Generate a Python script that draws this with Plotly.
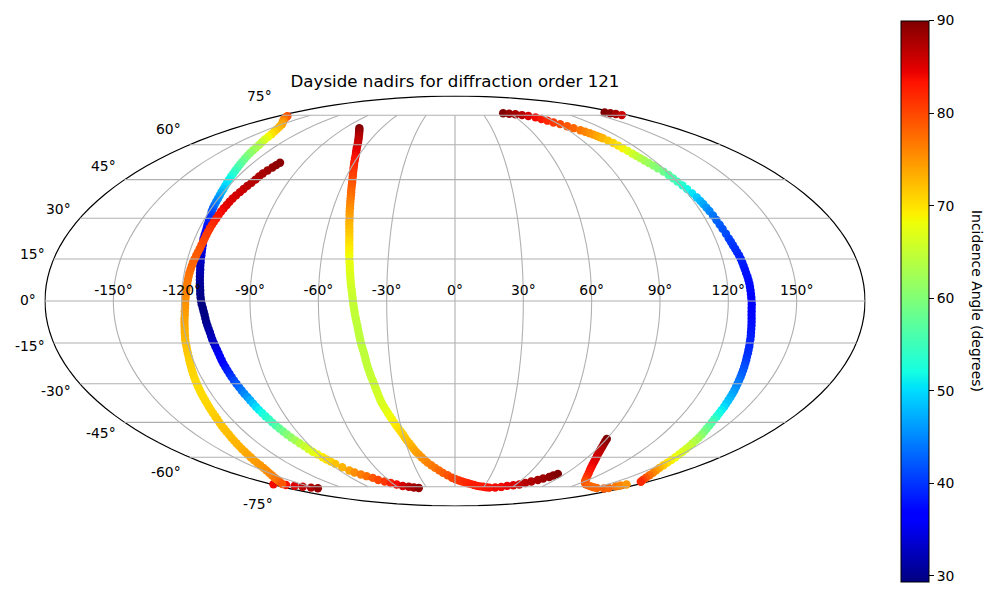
import numpy as np
import plotly.graph_objects as go

title = "Dayside nadirs for diffraction order 121"
colorbar_title = "Incidence Angle (degrees)"
cmin, cmax = 29.4, 90

# each row: latitude, longitude, incidence angle
track_a = [(74.5,-170.3,80),(74,-168,79),(73,-163.5,77.5),(72,-158.7,76),(71,-154,75),(70,-149.8,74),(68.75,-146.4,73),(67.5,-143.4,72),(66.25,-140.8,71),(65,-138.6,70),(63.75,-137,68.5),(62.5,-135.7,67),(61.25,-134.1,65.5),(60,-132.7,64),(58.75,-131.7,63),(57.5,-130.8,62),(56.25,-130,61),(55,-129.1,60),(53.75,-128.2,59),(52.5,-127.3,58),(51.25,-126.5,57),(50,-125.7,56),(48.75,-125,55),(47.5,-124.3,54),(46.25,-123.7,52.8),(45,-123.1,51.5),(43.75,-122.5,50.8),(42.5,-121.9,50),(41.25,-121.4,49),(40,-121,48),(38.75,-120.5,47),(37.5,-120.1,46),(36.25,-119.8,45),(35,-119.5,44),(33.75,-119.1,43),(32.5,-118.7,42),(31.25,-118.1,41),(30,-117.6,40),(28.75,-117.3,39.2),(27.5,-117,38.5),(26.25,-116.6,38),(25,-116.3,37.5),(23.75,-116.1,37),(22.5,-115.9,36.5),(21.25,-115.5,36),(20,-115.1,35.5),(18.75,-114.8,35),(17.5,-114.5,34.5),(16.25,-114.2,34),(15,-114,33.5),(13.75,-113.7,33),(12.5,-113.5,32.5),(11.25,-113.2,32.2),(10,-113,32),(8.75,-112.8,31.5),(7.5,-112.6,31),(6.25,-112.4,30.7),(5,-112.2,30.5),(3.75,-112,30.2),(2.5,-111.9,30),(1.25,-111.7,29.8),(0,-111.5,29.7),(-1.25,-111.2,29.6),(-2.5,-110.8,29.5),(-3.75,-110.5,29.5),(-5,-110.2,29.5),(-6.25,-110,29.7),(-7.5,-109.8,30),(-8.75,-109.5,30.5),(-10,-109.2,31),(-11.25,-108.9,31.5),(-12.5,-108.7,32),(-13.75,-108.5,32.5),(-15,-108.2,33),(-16.25,-107.9,33.7),(-17.5,-107.6,34.5),(-18.75,-107.4,35.2),(-20,-107.2,36),(-21.25,-107,36.5),(-22.5,-106.8,37),(-23.75,-106.5,37.7),(-25,-106.2,38.5),(-26.25,-105.9,39.2),(-27.5,-105.6,40),(-28.75,-105.3,41),(-30,-104.9,42),(-31.25,-104.5,43),(-32.5,-104.1,44),(-33.75,-103.7,45),(-35,-103.2,46),(-36.25,-102.8,47.2),(-37.5,-102.4,48.5),(-38.75,-102,49.8),(-40,-101.6,51),(-41.25,-101.1,52),(-42.5,-100.6,53),(-43.75,-100.1,54),(-45,-99.6,55),(-46.25,-99,56.2),(-47.5,-98.4,57.5),(-48.75,-97.8,58.8),(-50,-97.2,60),(-51.25,-96.4,61.2),(-52.5,-95.6,62.5),(-53.75,-94.7,63.8),(-55,-93.8,65),(-56.25,-93,66),(-57.5,-92.2,67),(-58.75,-91,68.2),(-60,-89.8,69.5),(-61,-88.8,70.2),(-62,-87.8,71),(-63.1,-86.6,72),(-64.7,-84.6,73),(-66.35,-82.6,74),(-67.35,-80.6,75.5),(-68.35,-77.6,76.5),(-69.2,-74.7,77.5),(-70.1,-71.4,79),(-71.2,-69.1,80),(-72.05,-65.1,81),(-72.9,-61.4,82.5),(-73.7,-57.4,84),(-74.55,-53.2,85.5),(-75,-47.9,87),(-75.4,-43.4,88),(-75.7,-38.7,89)]

track_b = [(-73.6,-178,84),(-74,-168.3,83.5),(-74.5,-163,85),(-75,-158,86.5),(-75.5,-152.6,87.5),(-75.9,-148,89),(52,-104,89.5),(51,-104.8,89.3),(50,-105.6,89),(48.75,-106.7,88.5),(47.5,-107.7,88),(46.25,-108.2,87.8),(45,-108.7,87.5),(43.75,-109.4,87.2),(42.5,-110.1,87),(41.25,-110.8,86.5),(40,-111.4,86),(38.75,-112.1,85.8),(37.5,-112.7,85.5),(36.25,-113.1,85.2),(35,-113.4,85),(33.75,-113.8,84.5),(32.5,-114.1,84),(31.25,-114.3,83.5),(30,-114.5,83),(28.75,-114.7,82.5),(27.5,-114.9,82),(26.25,-115.1,81.5),(25,-115.2,81),(23.75,-115.3,80.8),(22.5,-115.4,80.5),(21.25,-115.5,80.2),(20,-115.7,80),(18.75,-115.9,79.5),(17.5,-116.2,79),(16.25,-116.5,78.8),(15,-116.8,78.5),(13.75,-117.1,78.2),(12.5,-117.3,78),(11.25,-117.5,77.8),(10,-117.7,77.5),(8.75,-117.8,77.2),(7.5,-117.9,77),(6.25,-118,76.8),(5,-118.1,76.5),(3.75,-118.1,76.2),(2.5,-118.2,76),(1.25,-118.3,75.8),(0,-118.4,75.5),(-1.25,-118.5,75.2),(-2.5,-118.6,75),(-3.75,-118.8,74.8),(-5,-118.9,74.5),(-6.25,-119.2,74.2),(-7.5,-119.4,74),(-8.75,-119.6,73.8),(-10,-119.8,73.5),(-11.25,-120.1,73.2),(-12.5,-120.3,73),(-13.75,-120.6,72.8),(-15,-120.8,72.5),(-16.25,-120.9,72.2),(-17.5,-121.1,72),(-18.75,-121.3,71.8),(-20,-121.5,71.5),(-21.25,-121.8,71.3),(-22.5,-122.1,71.2),(-23.75,-122.4,71.1),(-25,-122.7,71),(-26.25,-123,70.9),(-27.5,-123.3,70.8),(-28.75,-123.6,70.6),(-30,-123.9,70.5),(-31.25,-124.2,70.5),(-32.5,-124.5,70.5),(-33.75,-124.8,70.5),(-35,-125.1,70.5),(-36.25,-125.4,70.6),(-37.5,-125.7,70.7),(-38.75,-126.1,70.9),(-40,-126.5,71),(-41.25,-126.9,71.2),(-42.5,-127.3,71.3),(-43.75,-127.8,71.5),(-45,-128.4,71.7),(-46.25,-129,71.9),(-47.5,-129.6,72),(-48.75,-130.2,72.2),(-50,-130.8,72.3),(-51.25,-131.6,72.5),(-52.5,-132.4,72.7),(-53.75,-133.3,72.9),(-55,-134.2,73),(-56.25,-135.2,73.3),(-57.5,-136.2,73.5),(-58.75,-137.4,73.8),(-60,-138.6,74),(-61.25,-140,74.3),(-62.5,-141.4,74.5),(-63.75,-143,74.8),(-65,-144.8,75),(-66.25,-147,75.4),(-67.5,-149.7,75.7),(-68.75,-152.8,76.1),(-70,-156.2,76.5),(-71,-159.2,77),(-72,-162.4,77.5),(-72.8,-165.5,78.2),(-73.5,-168.7,79)]

track_c = [(68,-78.1,90),(67,-76,89.3),(66,-74.2,88.7),(65,-72.5,88),(63.75,-70.6,87.5),(62.5,-68.9,87),(61.25,-67.4,86.5),(60,-66.1,86),(58.75,-65,85.5),(57.5,-63.9,85),(56.25,-62.8,84.5),(55,-61.8,84),(53.75,-61,83.5),(52.5,-60.2,83),(51.25,-59.4,82.5),(50,-58.6,82),(48.75,-57.9,81.5),(47.5,-57.2,81),(46.25,-56.5,80.5),(45,-55.9,80),(43.75,-55.3,79.5),(42.5,-54.8,79),(41.25,-54.3,78.5),(40,-53.8,78),(38.75,-53.3,77.5),(37.5,-52.9,77),(36.25,-52.5,76.5),(35,-52.1,76),(33.75,-51.7,75.5),(32.5,-51.4,75),(31.25,-51,74.5),(30,-50.6,74),(28.75,-50.3,73.5),(27.5,-50,73),(26.25,-49.6,72.5),(25,-49.3,72),(23.75,-49,71.5),(22.5,-48.7,71),(21.25,-48.5,70.5),(20,-48.2,70),(18.75,-48,69.5),(17.5,-47.8,69),(16.25,-47.6,68.5),(15,-47.4,68),(13.75,-47.1,67.7),(12.5,-46.9,67.5),(11.25,-46.7,67.2),(10,-46.5,67),(8.75,-46.3,66.7),(7.5,-46.1,66.5),(6.25,-45.9,66.2),(5,-45.7,66),(3.75,-45.4,65.7),(2.5,-45.2,65.5),(1.25,-45,65.3),(0,-44.8,65.2),(-1.25,-44.6,65.1),(-2.5,-44.4,65),(-3.75,-44.2,64.9),(-5,-44,64.8),(-6.25,-43.7,64.7),(-7.5,-43.5,64.6),(-8.75,-43.2,64.5),(-10,-43,64.5),(-11.25,-42.8,64.5),(-12.5,-42.6,64.5),(-13.75,-42.4,64.5),(-15,-42.2,64.5),(-16.25,-41.9,64.5),(-17.5,-41.6,64.5),(-18.75,-41.3,64.5),(-20,-41.1,64.6),(-21.25,-40.9,64.6),(-22.5,-40.7,64.7),(-23.75,-40.5,64.7),(-25,-40.2,64.8),(-26.25,-39.9,64.9),(-27.5,-39.6,65),(-28.75,-39.2,65.1),(-30,-38.9,65.3),(-31.25,-38.6,65.5),(-32.5,-38.3,65.7),(-33.75,-38,65.8),(-35,-37.7,66),(-36.25,-37.4,66.2),(-37.5,-37,66.5),(-38.75,-36.4,66.7),(-40,-35.8,67),(-41.25,-35.2,67.5),(-42.5,-34.5,68),(-43.75,-33.9,68.5),(-45,-33.2,69),(-46.25,-32.5,69.5),(-47.5,-31.7,70),(-48.75,-30.9,70.5),(-50,-30.1,71),(-51.25,-29.5,71.5),(-52.5,-28.8,72),(-53.75,-27.9,72.5),(-55,-27,73),(-56.25,-26.2,73.5),(-57.5,-25.3,74),(-58.75,-24,74.5),(-60,-22.7,75),(-61.25,-21.2,75.5),(-62.5,-19.6,76),(-63.75,-17.4,76.5),(-65,-15.1,77),(-66.25,-12.4,77.8),(-67.5,-9.7,78.5),(-68.75,-6.2,79.2),(-70,-2.6,80),(-70.8,0.6,80.5),(-71.5,3.7,81),(-72,6.5,81.5),(-72.5,9.4,82),(-73,12.5,82.2),(-73.5,15.7,82.5),(-74,19,82.8),(-74.5,22.4,83),(-74.8,25.8,83),(-75,29.3,83),(-75.3,32.8,83.2),(-75.5,36.4,83.5),(-75.4,42.4,84),(-75.1,48.2,84),(-74.5,53,84.5),(-74.1,58.3,85),(-73.7,63.3,86),(-72.9,67.1,87),(-72.05,70.7,87.5),(-71.2,74.5,88),(-70.4,77.3,88.5),(-69.6,80.6,89),(-68.85,82.2,89.5),(-68.1,84.2,90)]

track_d = [(76.2,52.7,90),(75.9,58.5,89),(75.6,64.3,88),(75.1,69.8,87),(74.55,74.7,85.5),(73.8,79.6,84),(72.9,82.5,83),(71.95,85.3,82),(71,88,81),(70.1,91.3,80),(69,94.2,79),(68,96.8,78),(66.95,99.5,77),(66.2,101.3,76.2),(65.45,102.8,75.5),(64.8,104,74.8),(64.1,105,74),(63.5,105.9,73.5),(63,106.7,73),(61.9,107.9,72),(60.8,109,71),(59.6,109.8,70),(58.4,110.5,69),(57.2,111.3,67.5),(56,112,66),(55,112.7,65),(54,113.4,64),(53,114.2,63),(51.9,115,62),(50.8,116,61),(49.7,116.9,60),(48.3,118,58.5),(46.9,118.9,57),(45.5,119.5,56),(44.2,120.1,55),(42.7,120.9,53.5),(41.2,121.6,52),(39.5,122.3,50.5),(37.9,123,49),(36.6,123.4,48),(35.4,123.7,47),(34,124,46),(32.7,124.3,45),(31,124.6,44),(29.3,124.9,43),(27.6,125.2,42.5),(26,125.5,42),(24.2,125.9,41.5),(22.5,126.2,41),(21.25,126.5,40.5),(20,126.8,40),(18.75,127.2,39.8),(17.5,127.5,39.5),(16.25,127.9,39.2),(15,128.2,39),(13.75,128.4,38.8),(12.5,128.6,38.5),(11.25,128.8,38.2),(10,129,38),(8.75,129.3,37.9),(7.5,129.5,37.8),(6.25,129.7,37.6),(5,129.8,37.5),(3.75,129.9,37.4),(2.5,130,37.3),(1.25,130.1,37.1),(0,130.2,37),(-1.25,130.3,37),(-2.5,130.3,37),(-3.75,130.4,37.1),(-5,130.5,37.2),(-6.25,130.7,37.3),(-7.5,130.9,37.5),(-8.75,131.1,37.7),(-10,131.3,38),(-11.25,131.5,38.2),(-12.5,131.8,38.5),(-13.75,132,38.7),(-15,132.2,39),(-16.25,132.5,39.2),(-17.5,132.7,39.5),(-18.75,133,39.7),(-20,133.2,40),(-21.25,133.5,40.5),(-22.5,133.8,41),(-23.75,134.1,41.5),(-25,134.4,42),(-26.25,134.7,42.5),(-27.5,135,43),(-28.75,135.3,43.7),(-30,135.6,44.5),(-31.25,135.9,45.2),(-32.5,136.3,46),(-33.75,136.6,46.7),(-35,136.9,47.5),(-36.25,137.2,48.2),(-37.5,137.5,49),(-38.75,137.9,50),(-40,138.2,51),(-41.25,138.6,52),(-42.5,139,53),(-43.75,139.4,54.5),(-45,139.9,56),(-46.25,140.5,57),(-47.5,141.2,58),(-48.75,142,59.2),(-50,142.8,60.5),(-51.25,143.5,61.8),(-52.5,144.2,63),(-53.75,144.9,64),(-55,145.8,65),(-56.25,146.6,65.7),(-57.5,147.5,66.5),(-58.75,148.5,67.2),(-60,149.5,68),(-61.25,150.5,69),(-62.5,151.6,70),(-63.75,153,71.5),(-65,154.6,73),(-66.25,156.9,74.5),(-67.5,159.5,76),(-68.75,162.2,77.5),(-70,165.3,79),(-71.2,169,80.5),(-72.2,173,82)]

track_e = [(76.6,166.8,90),(76.2,170,89.5),(75.7,172,88),(75.1,173.8,86)]

track_f = [(-51.9,90.1,90),(-53,90.6,89.5),(-54.1,91.2,89),(-55.2,91.9,88.2),(-56.3,92.6,87.5),(-57.2,93.3,87),(-58.2,94.1,86.5),(-59.5,95.4,86),(-60.8,96.9,85.5),(-62.1,98.5,85),(-63.4,100.2,84.5),(-64.8,102.4,84),(-66.1,104.8,83.5),(-67.6,108,82.8),(-69.1,111.5,82),(-70.5,115.3,81),(-71.8,119.5,80),(-72.8,123.7,79.5),(-73.6,128.2,79),(-74.2,133.8,78.5),(-74.8,139.7,78),(-75.3,145.6,78),(-75.7,151.6,78),(-76,161.4,78.5),(-75.7,164.4,78),(-74.8,165.5,77),(-74.3,166.8,76),(-73.7,168.8,75)]

a_lat, a_lon, a_val = map(list, zip(*track_a))
b_lat, b_lon, b_val = map(list, zip(*track_b))
c_lat, c_lon, c_val = map(list, zip(*track_c))
d_lat, d_lon, d_val = map(list, zip(*track_d))
e_lat, e_lon, e_val = map(list, zip(*track_e))
f_lat, f_lon, f_val = map(list, zip(*track_f))

lon_ticks = [-150,-120,-90,-60,-30,0,30,60,90,120,150]
lat_ticks = [-75,-60,-45,-30,-15,0,15,30,45,60,75]
cbar_ticks = [30,40,50,60,70,80,90]
lat_label_x = [275,183,118,73,47,38,47,73,118,183,274]
lat_label_y = [504,472,433,391,346,300,254,209,166,129,96]

# the page has an 8px body margin: the figure fills what is left of the window
W, H, M = 992, 592, 8
def fx(px): return (px - M) / W
def fy(py): return 1 - (py - M) / H

FONT = "DejaVu Sans"
TXT = dict(family=FONT, size=13.9, color="black")
JET = [[0,"rgb(0,0,128)"],[.11,"rgb(0,0,255)"],[.125,"rgb(0,0,255)"],[.34,"rgb(0,219,255)"],[.35,"rgb(0,230,247)"],
       [.375,"rgb(21,255,226)"],[.64,"rgb(239,255,8)"],[.65,"rgb(247,246,0)"],[.66,"rgb(255,236,0)"],
       [.89,"rgb(255,19,0)"],[.91,"rgb(232,0,0)"],[1,"rgb(128,0,0)"]]

fig = go.Figure()
for la, lo, v, name in [(a_lat,a_lon,a_val,"a"),(b_lat,b_lon,b_val,"b"),(c_lat,c_lon,c_val,"c"),
                        (d_lat,d_lon,d_val,"d"),(e_lat,e_lon,e_val,"e"),(f_lat,f_lon,f_val,"f")]:
    fig.add_trace(go.Scattergeo(lat=la, lon=lo, mode="markers", name=name, hoverinfo="skip",
                                marker=dict(size=8.4, color=v, coloraxis="coloraxis", line=dict(width=0))))
GRID = dict(color="#b0b0b0", width=1.1)
for lo in lon_ticks:
    fig.add_trace(go.Scattergeo(lat=list(np.arange(-75,76,5)), lon=[lo]*31, mode="lines", line=GRID, hoverinfo="skip"))
for la in lat_ticks:
    ls = list(np.arange(-180,181,5))
    fig.add_trace(go.Scattergeo(lat=[la]*len(ls), lon=ls, mode="lines", line=GRID, hoverinfo="skip"))
fig.add_trace(go.Scattergeo(lat=[1]*len(lon_ticks), lon=lon_ticks, mode="text", hoverinfo="skip",
                            text=[f"{t}°" for t in lon_ticks], textposition="top center", textfont=TXT))
for t, x, y in zip(lat_ticks, lat_label_x, lat_label_y):
    fig.add_annotation(text=f"{t}°", xref="paper", yref="paper", x=fx(x), y=fy(y), xanchor="right", yanchor="middle",
                       showarrow=False, font=TXT)
fig.add_annotation(text=colorbar_title, xref="paper", yref="paper", x=fx(977), y=fy(301), xanchor="center", yanchor="middle",
                   textangle=90, showarrow=False, font=TXT)
fig.update_layout(
    width=W, height=H, margin=dict(l=0,r=0,t=0,b=0), showlegend=False, paper_bgcolor="white",
    font=TXT,
    title=dict(text=title, x=fx(455), xanchor="center", xref="paper", y=fy(81), yanchor="middle", yref="paper",
               font=dict(family=FONT, size=16.67, color="black")),
    geo=dict(projection_type="mollweide", domain=dict(x=[fx(45),fx(865)], y=[fy(506),fy(96)]),
             showland=False, showcoastlines=False, showcountries=False, showocean=False, showlakes=False, showrivers=False,
             showframe=True, framecolor="black", framewidth=1.2, bgcolor="white",
             lonaxis=dict(showgrid=False), lataxis=dict(showgrid=False)),
    coloraxis=dict(cmin=cmin, cmax=cmax, colorscale=JET, colorbar=dict(
        x=fx(901), xanchor="left", xpad=0, ypad=0, y=fy(20.5), yanchor="top", len=560.5/H, lenmode="fraction",
        thickness=28, thicknessmode="pixels", outlinecolor="black", outlinewidth=1,
        tickmode="array", tickvals=cbar_ticks, ticks="outside", ticklen=5, tickwidth=1, tickcolor="black",
        tickfont=TXT)),
)
fig.write_html("out.html")
